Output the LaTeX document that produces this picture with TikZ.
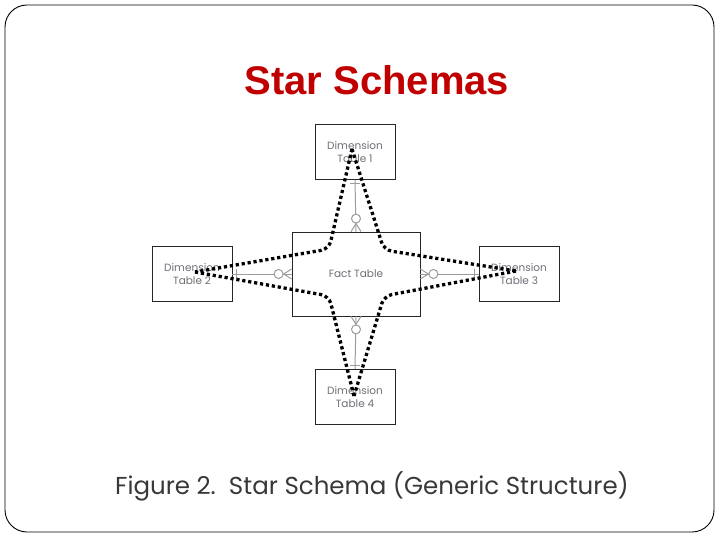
\documentclass[tikz,border=0pt]{standalone}
\usepackage{fontspec}
\setmainfont{Liberation Sans}
\newfontfamily\gothic{Poppins}
\usetikzlibrary{positioning,calc}
\definecolor{ttlred}{HTML}{C00000}
\definecolor{boxtxt}{HTML}{6E6E76}
\definecolor{relgray}{HTML}{9C9C9C}
\definecolor{captxt}{HTML}{383838}

\begin{document}
\begin{tikzpicture}[x=1pt,y=-1pt,
  tbl/.style ={draw=black!85, line width=0.8pt, minimum width=80pt, minimum height=55pt,
               inner sep=0pt, align=center, text=boxtxt, font=\gothic\fontsize{10.5}{12.5}\selectfont},
  rel/.style ={draw=relgray, line width=1pt},
  starln/.style ={line width=3.3pt, dash pattern=on 3.2pt off 2.8pt, rounded corners=8pt},
]
\useasboundingbox (0,0) rectangle (720,540);
% slide frame
\draw[line width=0.9pt, rounded corners=22pt] (5,5) rectangle (714,532);
\node[font=\bfseries\fontsize{40}{40}\selectfont, text=ttlred] (ttl) at (377,80) {Star Schemas};
% tables
\node[tbl, minimum width=128pt, minimum height=84pt] (fact) at (356,274) {Fact Table};
\node[tbl] (dim1) at (355,152) {Dimension\\Table 1};
\node[tbl] (dim2) at (192,274) {Dimension\\Table 2};
\node[tbl] (dim3) at (519,274) {Dimension\\Table 3};
\node[tbl] (dim4) at (355,397) {Dimension\\Table 4};
% relationships: bar at the dimension, ring + crow's foot at the fact table
\foreach \n/\a/\b/\ux/\uy in {dim1/north/south/0/-1, dim2/west/east/-1/0, dim3/east/west/1/0, dim4/south/north/0/1} {
  \draw[rel] (fact.\a) -- (\n.\b);
  \draw[rel] ($(\n.\b)+(-4*\ux-5*\uy,-4*\uy-5*\ux)$) -- ($(\n.\b)+(-4*\ux+5*\uy,-4*\uy+5*\ux)$);
  \draw[rel] ($(fact.\a)+(5*\uy,5*\ux)$) -- ($(fact.\a)+(8*\ux,8*\uy)$) -- ($(fact.\a)+(-5*\uy,-5*\ux)$);
  \draw[rel, fill=white] ($(fact.\a)+(13*\ux,13*\uy)$) circle (4.5pt);
}
% the star overlay
\coordinate (t1) at (352,149);
\coordinate (t2) at (195,272);
\coordinate (t3) at (516,271);
\coordinate (t4) at (354,396);
\draw[starln] (t1) -- (329,249) -- (t2);
\draw[starln] (t1) -- (384,250) -- (t3);
\draw[starln] (t2) -- (329,296) -- (t4);
\draw[starln] (t3) -- (384,296) -- (t4);
% caption
\node[font=\gothic\fontsize{24.5}{28}\selectfont, text=captxt] (cap) at (372,486) {Figure 2.\ \ Star Schema (Generic Structure)};
\end{tikzpicture}
\end{document}
